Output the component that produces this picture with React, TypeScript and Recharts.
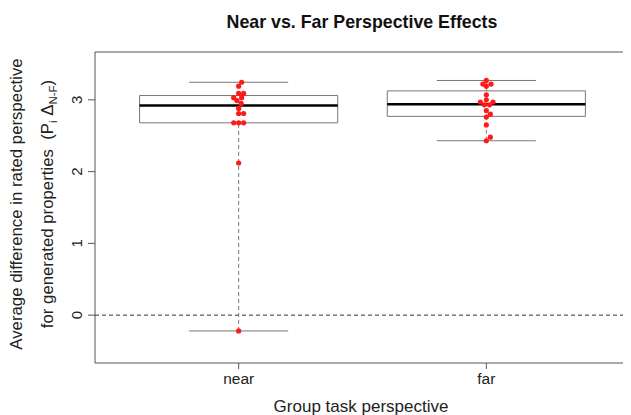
import {
  ComposedChart,
  Scatter,
  XAxis,
  YAxis,
  ReferenceArea,
  ReferenceLine,
} from "recharts";

const categories = ["near", "far"];
const groupPositions = [1, 2];

// box statistics
const lowerWhisker = [-0.22, 2.43];
const lowerQuartile = [2.68, 2.77];
const medians = [2.92, 2.94];
const upperQuartile = [3.06, 3.125];
const upperWhisker = [3.245, 3.27];

// individual group scores (beeswarm)
const nearValues = [
  3.245, 3.19, 3.09, 3.09, 3.03, 3.03, 2.99, 2.95, 2.88, 2.81, 2.81, 2.68,
  2.68, 2.68, 2.12, -0.22,
];
const nearSpread = [
  0.012, 0, 0, 0.02, -0.02, 0.012, -0.007, 0.01, 0, 0, 0.02, -0.02, 0, 0.02,
  0, 0,
];
const farValues = [
  3.27, 3.22, 3.22, 3.19, 3.07, 3.0, 2.97, 2.97, 2.93, 2.93, 2.85, 2.8, 2.76,
  2.65, 2.48, 2.43,
];
const farSpread = [
  0, -0.014, 0.019, 0, 0, 0, -0.024, 0.027, -0.008, 0.013, 0, 0.016, 0, 0,
  0.016, 0,
];

const yTicks = [0, 1, 2, 3];

const points = [
  ...nearValues.map((v, i) => ({ x: groupPositions[0] + nearSpread[i], y: v })),
  ...farValues.map((v, i) => ({ x: groupPositions[1] + farSpread[i], y: v })),
];

const FONT = "'Liberation Sans', Arial, Helvetica, sans-serif";
const X_DOMAIN: [number, number] = [0.42, 2.58];
const Y_DOMAIN: [number, number] = [-0.6667, 3.6667];

function YTick(props: any) {
  const { x, y, payload } = props;
  const tx = x - 4;
  return (
    <text
      x={tx}
      y={y}
      transform={`rotate(-90, ${tx}, ${y})`}
      textAnchor="middle"
      fontSize={15}
      fontFamily={FONT}
      fill="#222"
    >
      {payload.value}
    </text>
  );
}

function XTick(props: any) {
  const { x, y, payload } = props;
  const idx = groupPositions.indexOf(payload.value);
  return (
    <text
      x={x}
      y={y + 13}
      textAnchor="middle"
      fontSize={15.5}
      fontFamily={FONT}
      fill="#222"
    >
      {categories[idx]}
    </text>
  );
}

function Dot(props: any) {
  return <circle cx={props.cx} cy={props.cy} r={2.6} fill="#ff1a1a" />;
}

export default function App() {
  return (
    <div style={{ position: "relative", width: 631, height: 415, margin: "-8px 0 0 -8px" }}>
      <ComposedChart
        width={631}
        height={415}
        data={points}
        margin={{ top: 52, right: 1, bottom: 22, left: 65 }}
      >
        <XAxis
          type="number"
          dataKey="x"
          domain={X_DOMAIN}
          ticks={groupPositions}
          allowDataOverflow
          axisLine={false}
          tickSize={6}
          tickLine={{ stroke: "#555" }}
          tick={<XTick />}
          height={30}
        />
        <YAxis
          type="number"
          dataKey="y"
          domain={Y_DOMAIN}
          ticks={yTicks}
          allowDataOverflow
          axisLine={false}
          tickSize={7}
          tickLine={{ stroke: "#555" }}
          tick={<YTick />}
          width={30}
        />
        <ReferenceArea
          x1={X_DOMAIN[0]}
          x2={X_DOMAIN[1]}
          y1={Y_DOMAIN[0]}
          y2={Y_DOMAIN[1]}
          fill="none"
          fillOpacity={0}
          stroke="#555"
          strokeWidth={1}
          ifOverflow="visible"
        />
        <ReferenceLine
          y={0}
          stroke="#333"
          strokeDasharray="4 3"
          ifOverflow="visible"
        />
        {groupPositions.map((g, i) => (
          <ReferenceLine
            key={`wl-${i}`}
            segment={[
              { x: g, y: lowerWhisker[i] },
              { x: g, y: lowerQuartile[i] },
            ]}
            stroke="#777"
            strokeDasharray="4 3"
          />
        ))}
        {groupPositions.map((g, i) => (
          <ReferenceLine
            key={`wu-${i}`}
            segment={[
              { x: g, y: upperQuartile[i] },
              { x: g, y: upperWhisker[i] },
            ]}
            stroke="#777"
            strokeDasharray="4 3"
          />
        ))}
        {groupPositions.map((g, i) => (
          <ReferenceLine
            key={`cl-${i}`}
            segment={[
              { x: g - 0.2, y: lowerWhisker[i] },
              { x: g + 0.2, y: lowerWhisker[i] },
            ]}
            stroke="#777"
          />
        ))}
        {groupPositions.map((g, i) => (
          <ReferenceLine
            key={`cu-${i}`}
            segment={[
              { x: g - 0.2, y: upperWhisker[i] },
              { x: g + 0.2, y: upperWhisker[i] },
            ]}
            stroke="#777"
          />
        ))}
        {groupPositions.map((g, i) => (
          <ReferenceArea
            key={`box-${i}`}
            x1={g - 0.4}
            x2={g + 0.4}
            y1={lowerQuartile[i]}
            y2={upperQuartile[i]}
            fill="#fff"
            fillOpacity={1}
            stroke="#777"
            strokeWidth={1}
          />
        ))}
        {groupPositions.map((g, i) => (
          <ReferenceLine
            key={`med-${i}`}
            segment={[
              { x: g - 0.4, y: medians[i] },
              { x: g + 0.4, y: medians[i] },
            ]}
            stroke="#000"
            strokeWidth={2.5}
          />
        ))}
        <Scatter
          data={points}
          dataKey="y"
          shape={<Dot />}
          isAnimationActive={false}
        />
      </ComposedChart>
      <svg
        width={631}
        height={415}
        style={{ position: "absolute", left: 0, top: 0, pointerEvents: "none" }}
        fontFamily={FONT}
      >
        <text x={362} y={28} textAnchor="middle" fontSize={17.8} fontWeight="bold" fill="#111">
          Near vs. Far Perspective Effects
        </text>
        <text x={361} y={412} textAnchor="middle" fontSize={17} fill="#222">
          Group task perspective
        </text>
        <g transform="rotate(-90, 0, 0)">
          <text x={-204} y={22} textAnchor="middle" fontSize={16.8} fill="#222">
            Average difference in rated perspective
          </text>
          <text x={-204} y={53} textAnchor="middle" fontSize={16.8} fill="#222">
            {"for generated properties\u00a0\u00a0(P"}
            <tspan fontSize={11.5} dy={4}>i</tspan>
            <tspan dy={-4}>{"\u00a0Δ"}</tspan>
            <tspan fontSize={11.5} dy={4}>N-F</tspan>
            <tspan dy={-4}>)</tspan>
          </text>
        </g>
      </svg>
    </div>
  );
}
